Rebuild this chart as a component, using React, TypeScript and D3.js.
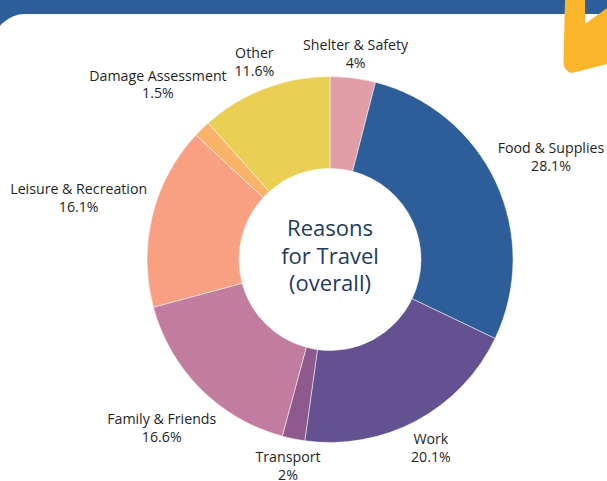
import React, { useEffect, useRef } from "react";
import * as d3 from "d3";

const categories = [
  "Shelter & Safety",
  "Food & Supplies",
  "Work",
  "Transport",
  "Family & Friends",
  "Leisure & Recreation",
  "Damage Assessment",
  "Other",
];
const values = [4, 28.1, 20.1, 2, 16.6, 16.1, 1.5, 11.6];
const valueLabels = ["4%", "28.1%", "20.1%", "2%", "16.6%", "16.1%", "1.5%", "11.6%"];
const colors = ["#E19EA6", "#2D5E9A", "#635191", "#8E5A8D", "#C27C9F", "#F9A083", "#FAB46A", "#EACF55"];
const titleLines = ["Reasons", "for Travel", "(overall)"];

const W = 607;
const H = 481;

export default function App() {
  const ref = useRef<SVGSVGElement | null>(null);

  useEffect(() => {
    const svg = d3.select(ref.current);
    svg.selectAll("*").remove();

    // background
    svg.append("rect").attr("x", 0).attr("y", 0).attr("width", W).attr("height", 40).attr("fill", "#2D5E9A");
    svg.append("rect").attr("x", -7).attr("y", 14).attr("width", W + 60).attr("height", H + 60).attr("rx", 32).attr("fill", "#FFFFFF");
    svg
      .append("path")
      .attr("d", "M565,0 L563.5,62 Q563.5,71 572,73 L607,64 L607,8 L585,24 L585,0 Z")
      .attr("fill", "#FBB52B");

    const cx = 330;
    const cy = 259.5;
    const outerR = 183;
    const innerR = 91;

    const g = svg.append("g").attr("transform", `translate(${cx},${cy})`);

    const data = categories.map((c, i) => ({ name: c, value: values[i], label: valueLabels[i], color: colors[i] }));
    const pie = d3.pie<any>().value((d) => d.value).sort(null);
    const arcs = pie(data);
    const arc = d3.arc<any>().innerRadius(innerR).outerRadius(outerR);

    g.selectAll("path.slice")
      .data(arcs)
      .join("path")
      .attr("class", "slice")
      .attr("d", arc as any)
      .attr("fill", (d) => d.data.color)
      .attr("stroke", "#ffffff")
      .attr("stroke-width", 0.5);

    const labelR = 188;
    const lineH = 17.5;
    arcs.forEach((a) => {
      const t = g
        .append("text")
        .attr("font-family", "'Open Sans', sans-serif")
        .attr("font-size", 14.2)
        .attr("fill", "#1f1f1f")
        .attr("text-anchor", "middle");
      t.append("tspan").attr("x", 0).attr("y", 0).text(a.data.name);
      t.append("tspan").attr("x", 0).attr("y", lineH).text(a.data.label);
      const bb = (t.node() as SVGTextElement).getBBox();
      const w = bb.width;
      const h = bb.height;
      const mid = (a.startAngle + a.endAngle) / 2;
      const dx = Math.sin(mid);
      const dy = -Math.cos(mid);
      const distAt = (s: number) => {
        const px = Math.max(Math.abs(s * dx) - w / 2, 0);
        const py = Math.max(Math.abs(s * dy) - h / 2, 0);
        return Math.hypot(px, py);
      };
      let lo = 0;
      let hi = 600;
      for (let k = 0; k < 60; k++) {
        const m = (lo + hi) / 2;
        if (distAt(m) < labelR) lo = m;
        else hi = m;
      }
      const ccx = hi * dx;
      const ccy = hi * dy;
      const bcx = bb.x + w / 2;
      const bcy = bb.y + h / 2;
      t.attr("transform", `translate(${ccx - bcx},${ccy - bcy})`);
    });

    const title = g
      .append("text")
      .attr("text-anchor", "middle")
      .attr("font-family", "'Open Sans', sans-serif")
      .attr("font-size", 22)
      .attr("fill", "#1E3A5F");
    titleLines.forEach((l, i) => {
      title.append("tspan").attr("x", 0).attr("y", -23.5 + i * 27.5).text(l);
    });
  }, []);

  return (
    <svg
      ref={ref}
      width={W}
      height={H}
      viewBox={`0 0 ${W} ${H}`}
      style={{ position: "absolute", left: 0, top: 0, display: "block" }}
    />
  );
}
